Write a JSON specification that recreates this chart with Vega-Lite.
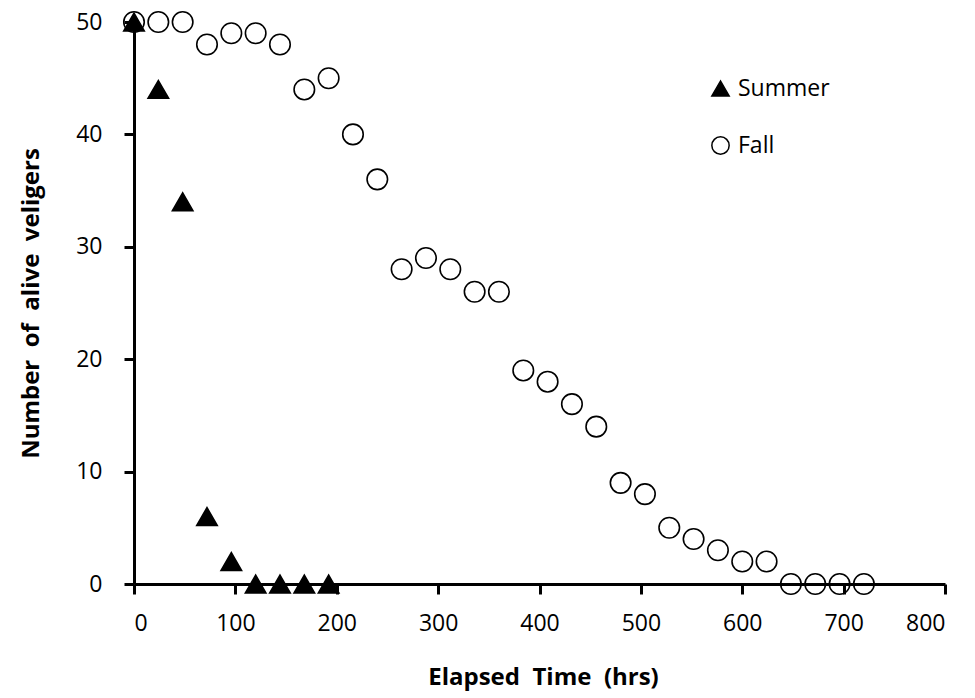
{
  "$schema": "https://vega.github.io/schema/vega-lite/v6.json",
  "autosize": "none",
  "width": 811,
  "height": 562,
  "padding": {"left": 134, "top": 22, "right": 30, "bottom": 114},
  "background": "white",
  "config": {
    "view": {"stroke": null},
    "font": "Open Sans",
    "axis": {"domainColor": "#000000", "domainWidth": 3, "tickColor": "#000000", "tickWidth": 3, "tickSize": 10}
  },
  "data": {"values": [
    {"season": "Fall", "time": 0, "count": 50},
    {"season": "Fall", "time": 24, "count": 50},
    {"season": "Fall", "time": 48, "count": 50},
    {"season": "Fall", "time": 72, "count": 48},
    {"season": "Fall", "time": 96, "count": 49},
    {"season": "Fall", "time": 120, "count": 49},
    {"season": "Fall", "time": 144, "count": 48},
    {"season": "Fall", "time": 168, "count": 44},
    {"season": "Fall", "time": 192, "count": 45},
    {"season": "Fall", "time": 216, "count": 40},
    {"season": "Fall", "time": 240, "count": 36},
    {"season": "Fall", "time": 264, "count": 28},
    {"season": "Fall", "time": 288, "count": 29},
    {"season": "Fall", "time": 312, "count": 28},
    {"season": "Fall", "time": 336, "count": 26},
    {"season": "Fall", "time": 360, "count": 26},
    {"season": "Fall", "time": 384, "count": 19},
    {"season": "Fall", "time": 408, "count": 18},
    {"season": "Fall", "time": 432, "count": 16},
    {"season": "Fall", "time": 456, "count": 14},
    {"season": "Fall", "time": 480, "count": 9},
    {"season": "Fall", "time": 504, "count": 8},
    {"season": "Fall", "time": 528, "count": 5},
    {"season": "Fall", "time": 552, "count": 4},
    {"season": "Fall", "time": 576, "count": 3},
    {"season": "Fall", "time": 600, "count": 2},
    {"season": "Fall", "time": 624, "count": 2},
    {"season": "Fall", "time": 648, "count": 0},
    {"season": "Fall", "time": 672, "count": 0},
    {"season": "Fall", "time": 696, "count": 0},
    {"season": "Fall", "time": 720, "count": 0},
    {"season": "Summer", "time": 0, "count": 50},
    {"season": "Summer", "time": 24, "count": 44},
    {"season": "Summer", "time": 48, "count": 34},
    {"season": "Summer", "time": 72, "count": 6},
    {"season": "Summer", "time": 96, "count": 2},
    {"season": "Summer", "time": 120, "count": 0},
    {"season": "Summer", "time": 144, "count": 0},
    {"season": "Summer", "time": 168, "count": 0},
    {"season": "Summer", "time": 192, "count": 0}
  ]},
  "mark": {"type": "point", "size": 420, "stroke": "black", "strokeWidth": 1.6, "opacity": 1, "filled": false},
  "encoding": {
    "x": {"field": "time", "type": "quantitative", "title": "Elapsed\u00a0 Time\u00a0 (hrs)",
      "scale": {"domain": [0, 800], "nice": false},
      "axis": {"values": [0, 100, 200, 300, 400, 500, 600, 700, 800], "grid": false,
        "labelColor": "#000000", "labelFont": "Open Sans", "labelFontSize": 23, "labelPadding": 18,
        "titleFont": "Open Sans", "titleFontSize": 24, "titleFontWeight": "bold", "titleColor": "#000000",
        "titleX": 409, "titleY": 93, "titleBaseline": "middle", "titleAlign": "center"}},
    "y": {"field": "count", "type": "quantitative", "title": "Number\u00a0 of\u00a0 alive\u00a0 veligers",
      "scale": {"domain": [0, 50], "nice": false},
      "axis": {"values": [0, 10, 20, 30, 40, 50], "grid": false,
        "labelColor": "#000000", "labelFont": "Open Sans", "labelFontSize": 23, "labelPadding": 22,
        "titleFont": "Open Sans", "titleFontSize": 24, "titleFontWeight": "bold", "titleColor": "#000000",
        "titleX": -103, "titleY": 281, "titleAngle": -90, "titleBaseline": "middle", "titleAlign": "center"}},
    "shape": {"field": "season", "type": "nominal", "scale": {"domain": ["Summer", "Fall"], "range": ["triangle-up", "circle"]},
      "legend": {"orient": "none", "legendX": 575, "legendY": 55, "title": null, "symbolSize": 300,
        "labelFontSize": 23, "labelFont": "Open Sans", "labelColor": "#000000", "rowPadding": 32, "labelOffset": 6,
        "encode": {"symbols": {"update": {"stroke": {"value": "#000000"}, "strokeWidth": {"value": 1.6}}}}}},
    "fill": {"field": "season", "type": "nominal", "scale": {"domain": ["Summer", "Fall"], "range": ["black", "transparent"]}, "legend": null}
  }
}
